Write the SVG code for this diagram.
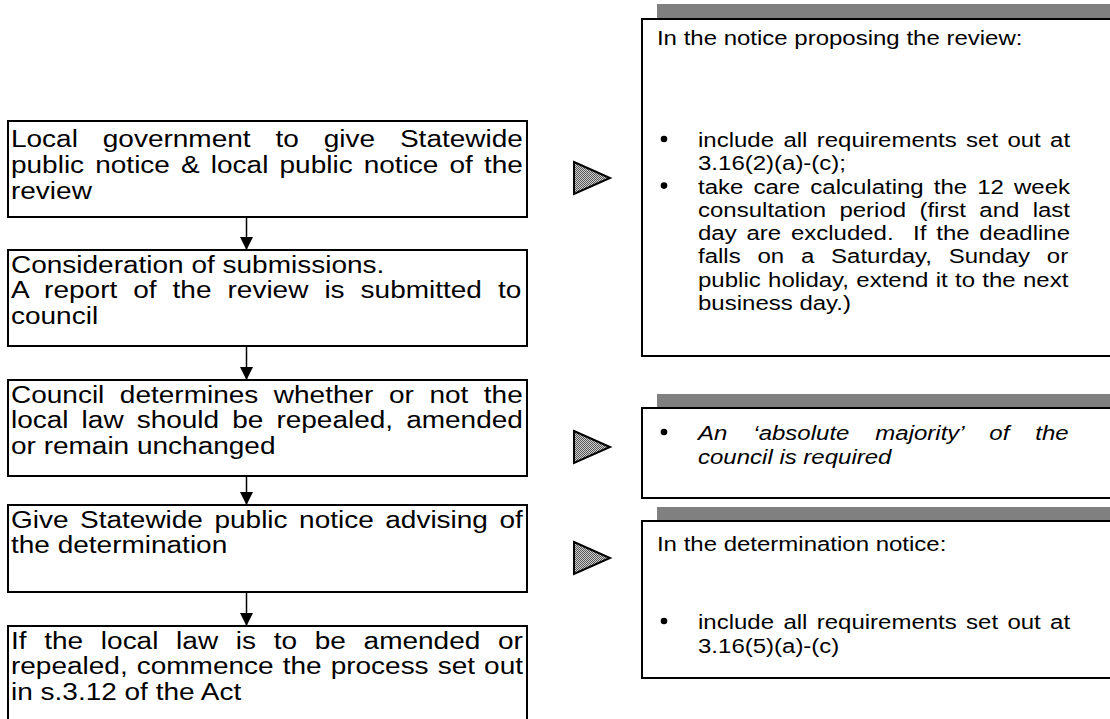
<svg xmlns="http://www.w3.org/2000/svg" width="1110" height="719" viewBox="0 0 1110 719">
<defs>
<pattern id="dots" width="2" height="2" patternUnits="userSpaceOnUse">
<rect width="2" height="2" fill="#d0d0d0"/>
<rect width="1" height="1" fill="#555"/>
<rect x="1" y="1" width="1" height="1" fill="#555"/>
</pattern>
<marker id="ah" markerWidth="13" markerHeight="13" refX="13" refY="6.5" orient="auto" markerUnits="userSpaceOnUse">
<path d="M0,0 L13,6.5 L0,13 Z" fill="#000"/>
</marker>
<style>
.box{fill:#fff;stroke:#000;stroke-width:2}
.shadow{fill:#808080}
.tri{fill:url(#dots);stroke:#000;stroke-width:2;stroke-linejoin:miter}
.tl{font-family:"Liberation Sans",Arial,sans-serif;font-size:24px;fill:#000}
.tr{font-family:"Liberation Sans",Arial,sans-serif;font-size:20.57px;fill:#000}
.it{font-style:italic}
.conn{stroke:#000;stroke-width:1.5;fill:none;marker-end:url(#ah)}
.dot{fill:#000}
</style>
</defs>
<rect width="1110" height="719" fill="#fff"/>

<g id="connectors">
<line class="conn" x1="246.5" y1="217" x2="246.5" y2="250"/>
<line class="conn" x1="246.5" y1="346" x2="246.5" y2="380"/>
<line class="conn" x1="246.5" y1="476" x2="246.5" y2="505"/>
<line class="conn" x1="246.5" y1="592" x2="246.5" y2="626"/>
<polygon class="tri" points="574,162 610,178 574,194"/>
<polygon class="tri" points="574,431 610,447 574,463"/>
<polygon class="tri" points="574,542 610,558 574,574"/>
</g>

<g id="step1">
<rect class="box" x="8" y="121" width="519" height="96"/>
<g transform="scale(1.1667,1)">
<text class="tl" x="9.43" y="147" word-spacing="14.68">Local government to give Statewide</text>
<text class="tl" x="9.43" y="173" word-spacing="2.87">public notice &amp; local public notice of the</text>
<text class="tl" x="9.43" y="199">review</text>
</g>
</g>

<g id="step2">
<rect class="box" x="8" y="250" width="519" height="96"/>
<g transform="scale(1.1667,1)">
<text class="tl" x="9.43" y="273">Consideration of submissions.</text>
<text class="tl" x="9.43" y="298.5" word-spacing="7.06">A report of the review is submitted to</text>
<text class="tl" x="9.43" y="324">council</text>
</g>
</g>

<g id="step3">
<rect class="box" x="8" y="380" width="519" height="96"/>
<g transform="scale(1.1667,1)">
<text class="tl" x="9.43" y="403" word-spacing="6.66">Council determines whether or not the</text>
<text class="tl" x="9.43" y="428.5" word-spacing="4.54">local law should be repealed, amended</text>
<text class="tl" x="9.43" y="454">or remain unchanged</text>
</g>
</g>

<g id="step4">
<rect class="box" x="8" y="505" width="519" height="87"/>
<g transform="scale(1.1667,1)">
<text class="tl" x="9.43" y="528" word-spacing="3.2">Give Statewide public notice advising of</text>
<text class="tl" x="9.43" y="553.5">the determination</text>
</g>
</g>

<g id="step5">
<rect class="box" x="8" y="626" width="519" height="110"/>
<g transform="scale(1.1667,1)">
<text class="tl" x="9.43" y="649" word-spacing="8.51">If the local law is to be amended or</text>
<text class="tl" x="9.43" y="674.5" word-spacing="1.1">repealed, commence the process set out</text>
<text class="tl" x="9.43" y="700">in s.3.12 of the Act</text>
</g>
</g>

<g id="note1">
<rect class="shadow" x="657" y="4" width="480" height="337"/>
<rect class="box" x="642" y="19" width="480" height="337"/>
<circle class="dot" cx="664" cy="139" r="3.3"/>
<circle class="dot" cx="664" cy="185.6" r="3.3"/>
<g transform="scale(1.1667,1)">
<text class="tr" x="563.1" y="45">In the notice proposing the review:</text>
<text class="tr" x="598.3" y="147" word-spacing="2.28">include all requirements set out at</text>
<text class="tr" x="598.3" y="170.3">3.16(2)(a)-(c);</text>
<text class="tr" x="598.3" y="193.6" word-spacing="2.96">take care calculating the 12 week</text>
<text class="tr" x="598.3" y="216.9" word-spacing="5.7">consultation period (first and last</text>
<text class="tr" x="598.3" y="240.2" word-spacing="2.65">day are excluded.&#160; If the deadline</text>
<text class="tr" x="598.3" y="263.5" word-spacing="8.66">falls on a Saturday, Sunday or</text>
<text class="tr" x="598.3" y="286.8" word-spacing="0.57">public holiday, extend it to the next</text>
<text class="tr" x="598.3" y="310.1">business day.)</text>
</g>
</g>

<g id="note2">
<rect class="shadow" x="657" y="394" width="480" height="90"/>
<rect class="box" x="642" y="408" width="480" height="90"/>
<circle class="dot" cx="664" cy="432" r="3.3"/>
<g transform="scale(1.1667,1)">
<text class="tr it" x="598.3" y="440" word-spacing="16.55">An ‘absolute majority’ of the</text>
<text class="tr it" x="598.3" y="464">council is required</text>
</g>
</g>

<g id="note3">
<rect class="shadow" x="657" y="507" width="480" height="157"/>
<rect class="box" x="642" y="521" width="480" height="157"/>
<circle class="dot" cx="664" cy="621" r="3.3"/>
<g transform="scale(1.1667,1)">
<text class="tr" x="563.1" y="551">In the determination notice:</text>
<text class="tr" x="598.3" y="629" word-spacing="2.28">include all requirements set out at</text>
<text class="tr" x="598.3" y="653">3.16(5)(a)-(c)</text>
</g>
</g>
</svg>
